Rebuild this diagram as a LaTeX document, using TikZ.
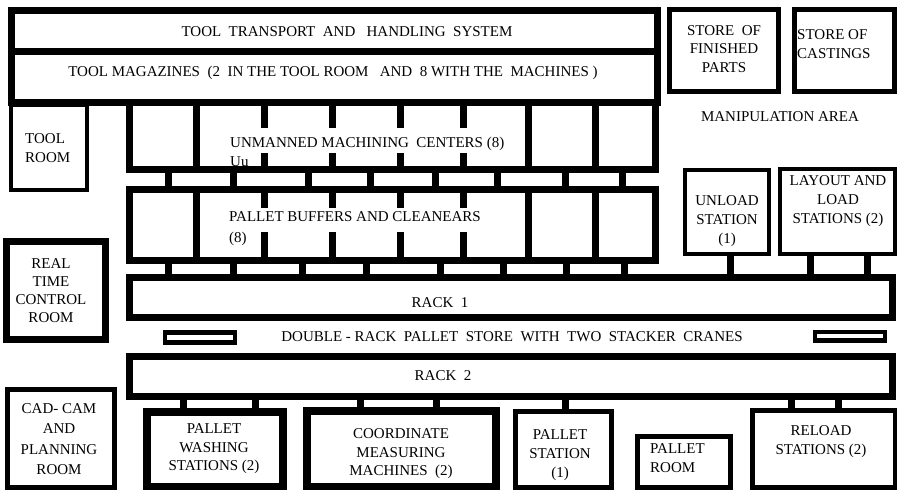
\documentclass[tikz,border=0pt]{standalone}
\usepackage{fontspec}
\setmainfont{Liberation Serif}
\usetikzlibrary{fit}
\tikzset{
  heavybox/.style={draw=black,line width=7pt,inner sep=0pt},
  widebox/.style={draw=black,line width=8pt,inner sep=0pt},
  midbox/.style={draw=black,line width=5pt,inner sep=0pt},
  lightbox/.style={draw=black,line width=4pt,inner sep=0pt},
  stub/.style={draw=black,line width=7pt},
  txt/.style={font=\fontsize{15}{19}\selectfont,inner sep=0pt,align=center}
}
\begin{document}
\begin{tikzpicture}[x=1pt,y=-1pt]
    \path[use as bounding box,fill=white] (0,0) rectangle (897,490);
    \node[heavybox,fit={(11,10) (657,51)}] (transport) {};
    \node[heavybox,fit={(11,51) (657,102)}] (magazines) {};
    \node[lightbox,fit={(11,105) (87,190)}] (toolroom) {};
    \node[heavybox,fit={(129,102) (655,169)}] (machining) {};
    \node[heavybox,fit={(129,189) (655,260)}] (buffers) {};
    \node[heavybox,fit={(129,277) (892,317)}] (rackA) {};
    \node[heavybox,fit={(129,356) (892,396)}] (rackB) {};
    \node[heavybox,fit={(6,241) (105,339)}] (realtime) {};
    \node[midbox,fit={(7,389) (114,487)}] (cadcam) {};
    \node[widebox,fit={(147,412) (283,487)}] (washing) {};
    \node[widebox,fit={(307,411) (496,487)}] (measuring) {};
    \node[midbox,fit={(515,411) (611,487)}] (palletst) {};
    \node[midbox,fit={(637,436) (730,487)}] (palletroom) {};
    \node[midbox,fit={(752,410) (895,487)}] (reload) {};
    \node[midbox,fit={(669,9) (778,91)}] (finished) {};
    \node[midbox,fit={(794,9) (894,91)}] (castings) {};
    \node[lightbox,fit={(685,170) (769,254)}] (unload) {};
    \node[lightbox,fit={(780,169) (895,254)}] (layout) {};
    \node[lightbox,line width=4.5pt,fit={(165,332.5) (235,342.5)}] (craneA) {};
    \node[lightbox,line width=4.5pt,fit={(815,332) (885,340.5)}] (craneB) {};

    \foreach \dx in {196,528,595} {
      \draw[stub] (machining.north -| \dx,0) -- (machining.south -| \dx,0);
      \draw[stub] (buffers.north -| \dx,0) -- (buffers.south -| \dx,0);
    }
    \foreach \dx in {264,332,400,463} {
      \draw[stub] (machining.north -| \dx,0) -- (\dx,128);
      \draw[stub] (\dx,153) -- (machining.south -| \dx,0);
      \draw[stub] (buffers.north -| \dx,0) -- (\dx,208);
      \draw[stub] (\dx,232) -- (buffers.south -| \dx,0);
    }
    \foreach \sx in {168,233,308,370,435,497,565,622}
      \draw[stub] (machining.south -| \sx,0) -- (buffers.north -| \sx,0);
    \foreach \sx in {168,233,302,366,440,503,566,624}
      \draw[stub] (buffers.south -| \sx,0) -- (rackA.north -| \sx,0);
    \draw[stub] (unload.south -| 730,0) -- (rackA.north -| 730,0);
    \foreach \sx in {810,867}
      \draw[stub] (layout.south -| \sx,0) -- (rackA.north -| \sx,0);
    \foreach \sx in {183,255}
      \draw[stub] (rackB.south -| \sx,0) -- (washing.north -| \sx,0);
    \foreach \sx in {360,436}
      \draw[stub] (rackB.south -| \sx,0) -- (measuring.north -| \sx,0);
    \draw[stub] (rackB.south -| 565,0) -- (palletst.north -| 565,0);
    \foreach \sx in {791,838}
      \draw[stub] (rackB.south -| \sx,0) -- (reload.north -| \sx,0);

    \node[txt] (t-transport) at (347,32) {TOOL\ \ TRANSPORT\ \ AND\ \ \ HANDLING\ \ SYSTEM};
    \node[txt] (t-magazines) at (333,73) {TOOL MAGAZINES\ \ (2\ \ IN THE TOOL ROOM\ \ \ AND\ \ 8 WITH THE\ \ MACHINES )};
    \node[txt,align=left,anchor=west] (t-toolroom) at (25,148) {TOOL\\ROOM};
    \node[txt,align=left,anchor=west] (t-machining) at (230,152) {UNMANNED MACHINING\ \ CENTERS (8)\\Uu};
    \node[txt,align=left,anchor=west] (t-buffers) at (229,229) {PALLET BUFFERS AND CLEANEARS\\[2pt](8)};
    \node[txt] (t-rackA) at (440,303) {RACK\ \ 1};
    \node[txt] (t-cranes) at (512,337) {DOUBLE - RACK\ \ PALLET\ \ STORE\ \ WITH\ \ TWO\ \ STACKER\ \ CRANES};
    \node[txt] (t-rackB) at (443,376) {RACK\ \ 2};
    \node[txt,font=\fontsize{15}{18}\selectfont] (t-realtime) at (51,291) {REAL\\TIME\\CONTROL\\ROOM};
    \node[txt,font=\fontsize{15}{20.5}\selectfont] (t-cadcam) at (59,439) {CAD- CAM\\AND\\PLANNING\\ROOM};
    \node[txt,font=\fontsize{15}{18.5}\selectfont] (t-washing) at (214,449) {PALLET\\WASHING\\STATIONS (2)};
    \node[txt,font=\fontsize{15}{18.5}\selectfont] (t-measuring) at (401,454) {COORDINATE\\MEASURING\\MACHINES\ \ (2)};
    \node[txt] (t-palletst) at (560,455) {PALLET\\STATION\\(1)};
    \node[txt,align=left,anchor=west] (t-palletroom) at (650,458) {PALLET\\ROOM};
    \node[txt] (t-reload) at (821,442) {RELOAD\\STATIONS (2)};
    \node[txt,font=\fontsize{15}{18.5}\selectfont] (t-finished) at (724,49) {STORE\ \ OF\\FINISHED\\PARTS};
    \node[txt,align=left,anchor=west] (t-castings) at (797,44) {STORE OF\\CASTINGS};
    \node[txt] (t-manip) at (780,117) {MANIPULATION AREA};
    \node[txt] (t-unload) at (727,221) {UNLOAD\\STATION\\(1)};
    \node[txt] (t-layout) at (838,201) {LAYOUT AND\\LOAD\\STATIONS (2)};
\end{tikzpicture}
\end{document}
